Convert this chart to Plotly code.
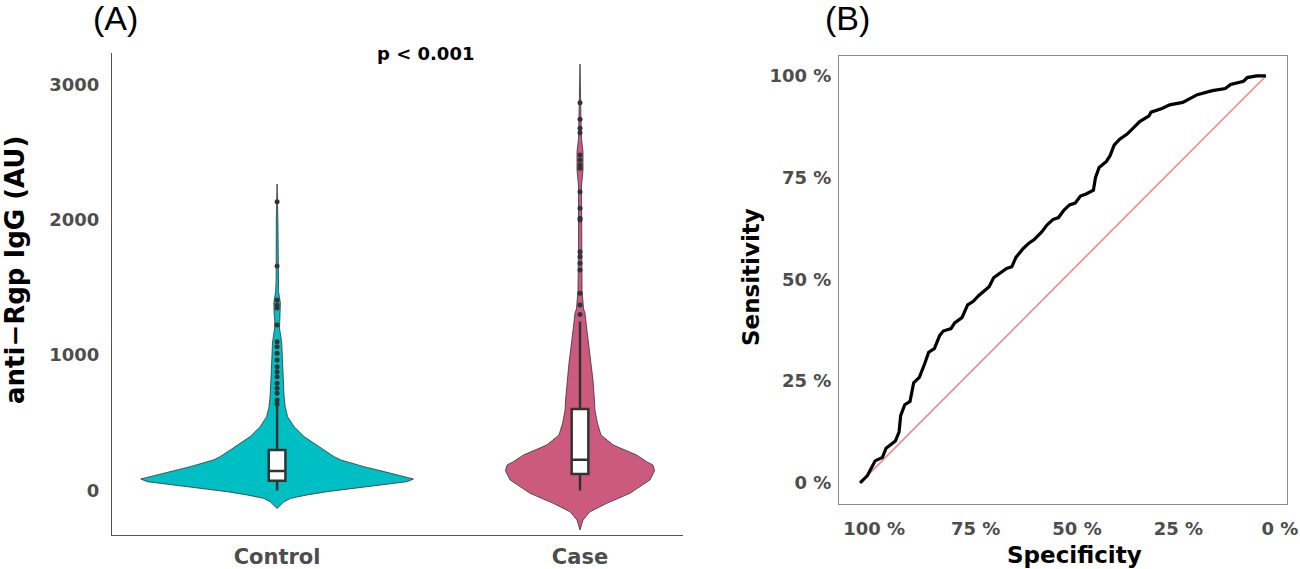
import plotly.graph_objects as go

W, H = 1300, 569

# (A) violin profiles: value -> relative half width
groups = ["Control", "Case"]
ctrl_y = [-133, -83, -58, -33, -9, 16, 41, 65, 85, 102, 127, 176, 225, 250, 299, 349,
          398, 471, 545, 620, 700, 890, 1090, 1200, 1260, 1309, 1385, 1469, 1550, 2000, 2265]
ctrl_dens = [0, .051, .100, .220, .366, .564, .755, .952, 1.0, .930, .835, .637, .469, .418,
             .344, .271, .198, .125, .077, .059, .051, .042, .034, .018, .017, .022, .024,
             .011, .007, .006, 0]
case_y = [-292, -218, -157, -95, -21, 78, 146, 188, 213, 262, 336, 410, 496, 591, 669, 817,
          941, 1209, 1309, 1343, 1477, 1800, 2250, 2368, 2440, 2503, 2600, 2750, 3151]
case_dens = [0, .022, .073, .196, .366, .513, .547, .535, .489, .415, .244, .154, .128, .110,
             .106, .095, .081, .048, .037, .026, .015, .011, .011, .022, .024, .022, .011,
             .007, 0]

# box stats: q1, median, q3, lower whisker, upper whisker
ctrl_box = [72, 144, 299, 0, 630]
case_box = [122, 227, 602, 0, 1249]

ctrl_out = [2134, 1659, 1408, 1371, 1349, 1223, 1100, 1063, 1014, 964, 915, 878, 841,
            792, 755, 718, 669, 640]
case_out = [2866, 2743, 2676, 2644, 2479, 2442, 2405, 2381, 2208, 2085, 2011, 1999,
            1765, 1728, 1679, 1629, 1457, 1371, 1300]

# (B) ROC curve
roc_spec = [1.0, 0.982, 0.963, 0.945, 0.936, 0.913, 0.904, 0.90, 0.89, 0.877, 0.868, 0.854,
            0.84, 0.831, 0.817, 0.804, 0.795, 0.776, 0.767, 0.749, 0.735, 0.721, 0.708,
            0.694, 0.682, 0.671, 0.658, 0.639, 0.626, 0.616, 0.598, 0.584, 0.571, 0.553,
            0.539, 0.525, 0.511, 0.498, 0.484, 0.47, 0.457, 0.443, 0.425, 0.42, 0.411,
            0.393, 0.384, 0.374, 0.361, 0.342, 0.324, 0.311, 0.288, 0.283, 0.256, 0.237,
            0.205, 0.192, 0.169, 0.132, 0.10, 0.087, 0.055, 0.046, 0.023, 0.0]
roc_sens = [0.0, 0.018, 0.054, 0.0625, 0.085, 0.103, 0.125, 0.165, 0.192, 0.2, 0.246, 0.259,
            0.295, 0.321, 0.33, 0.362, 0.373, 0.379, 0.393, 0.406, 0.4375, 0.446, 0.46,
            0.473, 0.482, 0.504, 0.513, 0.527, 0.531, 0.554, 0.576, 0.589, 0.598, 0.616,
            0.634, 0.647, 0.652, 0.67, 0.683, 0.6875, 0.705, 0.71, 0.719, 0.75, 0.775,
            0.79, 0.804, 0.83, 0.844, 0.857, 0.875, 0.888, 0.902, 0.911, 0.92, 0.929,
            0.935, 0.942, 0.954, 0.964, 0.969, 0.979, 0.987, 0.996, 1.0, 1.0]
pct_vals = [0, 0.25, 0.5, 0.75, 1.0]
pct_text = ["0 %", "25 %", "50 %", "75 %", "100 %"]

colors = ["#00BFC4", "#CC5A7E"]
dark = "#333333"
VW = 0.45  # max half width of violin in category units
XR = [-0.545, 1.34]
YR = [-329, 3233]


def px(x):
    return x / W


def py(y):
    return 1 - y / H


fig = go.Figure()

for i, (yy, dd) in enumerate([(ctrl_y, ctrl_dens), (case_y, case_dens)]):
    xs = [i - VW * d for d in dd] + [i + VW * d for d in reversed(dd)]
    ys = list(yy) + list(reversed(yy))
    fig.add_trace(go.Scatter(x=xs, y=ys, fill="toself", fillcolor=colors[i], mode="lines",
                             line=dict(color=dark, width=0.8), hoverinfo="skip",
                             xaxis="x", yaxis="y"))

# boxes + outliers go on an overlay subplot so they sit above the filled violins
for i, (b, out) in enumerate([(ctrl_box, ctrl_out), (case_box, case_out)]):
    fig.add_trace(go.Box(x=[i], q1=[b[0]], median=[b[1]], q3=[b[2]], lowerfence=[b[3]],
                         upperfence=[b[4]], orientation="v", width=0.055, whiskerwidth=0,
                         boxpoints=False, fillcolor="white",
                         line=dict(color=dark, width=2.5), xaxis="x3", yaxis="y3"))
    fig.add_trace(go.Scatter(x=[i] * len(out), y=out, mode="markers",
                             marker=dict(color=dark, size=5), xaxis="x3", yaxis="y3"))

fig.add_trace(go.Scatter(x=[1, 0], y=[0, 1], mode="lines",
                         line=dict(color="#F08A8A", width=1.6), xaxis="x2", yaxis="y2"))
fig.add_trace(go.Scatter(x=roc_spec, y=roc_sens, mode="lines",
                         line=dict(color="black", width=3.2), xaxis="x2", yaxis="y2"))

tick_font = dict(family="DejaVu Sans", size=18, color="#4D4D4D", weight="bold")
title_font = dict(family="DejaVu Sans", color="black", weight="bold")

fig.update_layout(
    width=W, height=H, showlegend=False,
    margin=dict(l=0, r=0, t=0, b=0),
    paper_bgcolor="white", plot_bgcolor="white",
    xaxis=dict(domain=[px(112), px(683)], range=XR, tickvals=[0, 1],
               ticktext=groups, showline=True, linecolor="#555555", linewidth=1,
               showgrid=False, zeroline=False, ticks="", ticklabelstandoff=3,
               tickfont=dict(family="DejaVu Sans", size=21, color="#4D4D4D", weight="bold"),
               anchor="y", automargin=False),
    yaxis=dict(domain=[py(535), py(53)], range=YR, tickvals=[0, 1000, 2000, 3000],
               showline=True, linecolor="#555555", linewidth=1, showgrid=False,
               zeroline=False, ticks="", ticklabelstandoff=8, tickfont=tick_font,
               anchor="x", automargin=False),
    xaxis3=dict(overlaying="x", range=XR, visible=False, anchor="y3"),
    yaxis3=dict(overlaying="y", range=YR, visible=False, anchor="x3"),
    xaxis2=dict(domain=[px(839), px(1287)], range=[1.052, -0.052], tickvals=pct_vals,
                ticktext=pct_text, showline=True, mirror=True, linecolor="#8C8C8C",
                linewidth=1, showgrid=False, zeroline=False, ticks="",
                ticklabelstandoff=8, ticklabelshift=-14, ticklabeloverflow="allow",
                tickfont=tick_font, anchor="y2", automargin=False),
    yaxis2=dict(domain=[py(504), py(56)], range=[-0.052, 1.049], tickvals=pct_vals,
                ticktext=pct_text, showline=True, mirror=True, linecolor="#8C8C8C",
                linewidth=1, showgrid=False, zeroline=False, ticks="",
                ticklabelstandoff=3, tickfont=tick_font, anchor="x2", automargin=False),
)

notes = [
    ("anti−Rgp IgG (AU)", 15, 270, -90, dict(title_font, size=26)),
    ("p < 0.001", 425, 54, 0, dict(title_font, size=18)),
    ("Sensitivity", 751, 277, -90, dict(title_font, size=23)),
    ("Specificity", 1074, 555, 0, dict(title_font, size=23)),
    ("(A)", 115, 18, 0, dict(family="Liberation Sans", size=34, color="black")),
    ("(B)", 847, 18, 0, dict(family="Liberation Sans", size=34, color="black")),
]
for text, x, y, ang, f in notes:
    fig.add_annotation(text=text, x=px(x), y=py(y), xref="paper", yref="paper",
                       xanchor="center", yanchor="middle", textangle=ang,
                       showarrow=False, font=f)

# drop the default page margin so the figure sits at the window's corner
fig.write_html("out.html", config={"displayModeBar": False},
               post_script="document.body.style.margin='0';document.body.style.overflow='hidden';")
